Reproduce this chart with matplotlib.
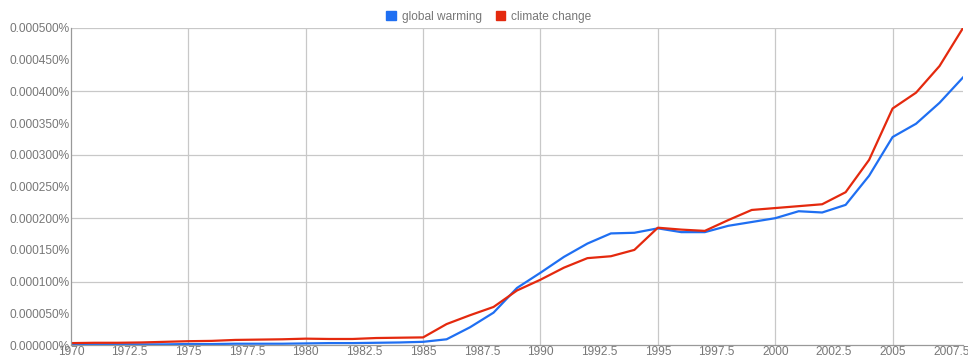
import matplotlib.pyplot as plt
from matplotlib.ticker import MultipleLocator, FuncFormatter

# values in millionths of a percent (1e-6 %)
years = list(range(1970, 2009))
global_warming = [1, 1, 1, 1, 1, 1.5, 1.5, 2, 2, 2,
                  2.5, 3, 3, 3.5, 4, 5, 9, 28, 51, 90,
                  114, 139, 160, 176, 177, 184, 178, 178, 188, 194,
                  200, 211, 209, 221, 267, 328, 349, 382, 422]
climate_change = [3, 3.5, 3.5, 4, 5, 6, 6.5, 8, 8.5, 9,
                  10, 9.5, 9.5, 11, 11.5, 12, 33, 47, 60, 86,
                  103, 122, 137, 140, 150, 185, 182, 180, 197, 213,
                  216, 219, 222, 241, 292, 373, 398, 440, 500]
series_names = ['global warming', 'climate change']
series_colors = ['#1f6ff2', '#e4290e']

plt.rcParams['font.family'] = ['Liberation Sans', 'DejaVu Sans']

dpi = 100
fig = plt.figure(figsize=(968 / dpi, 360 / dpi), dpi=dpi)
ax = fig.add_axes([71 / 968, 1 - 345 / 360, (963 - 71) / 968, (345 - 28) / 360])

for vals, name, col in zip([global_warming, climate_change], series_names, series_colors):
    ax.plot(years, vals, color=col, lw=1.6, label=name, solid_joinstyle='round')

ax.set_xlim(1970, 2008)
ax.set_ylim(0, 500)

# labels every 2.5 yrs / 50 units, grid every 5 yrs / 100 units
ax.xaxis.set_major_locator(MultipleLocator(2.5))
ax.yaxis.set_major_locator(MultipleLocator(50))
ax.xaxis.set_major_formatter(FuncFormatter(lambda v, p: f'{v:g}'))
ax.yaxis.set_major_formatter(FuncFormatter(lambda v, p: f'{v / 1e6:.6f}%'))
ax.tick_params(length=0, labelsize=8.6, labelcolor='#777777', pad=1)
for x in range(1975, 2008, 5):
    ax.axvline(x, color='#c8c8c8', lw=0.9, zorder=0)
for y in range(100, 501, 100):
    ax.axhline(y, color='#c8c8c8', lw=0.9, zorder=0)

for s in ['top', 'right']:
    ax.spines[s].set_visible(False)
for s in ['left', 'bottom']:
    ax.spines[s].set_color('#999999')
    ax.spines[s].set_linewidth(0.9)

leg = fig.legend(loc='upper center', bbox_to_anchor=(0.505, 1.0), ncol=2, frameon=False,
                 fontsize=8.6, handlelength=0.8, handleheight=0.8, handletextpad=0.5,
                 columnspacing=1.2,
                 handles=[plt.Rectangle((0, 0), 1, 1, color=c) for c in series_colors],
                 labels=series_names)
for t in leg.get_texts():
    t.set_color('#777777')

fig.savefig('out.png', dpi=dpi)
plt.close(fig)
